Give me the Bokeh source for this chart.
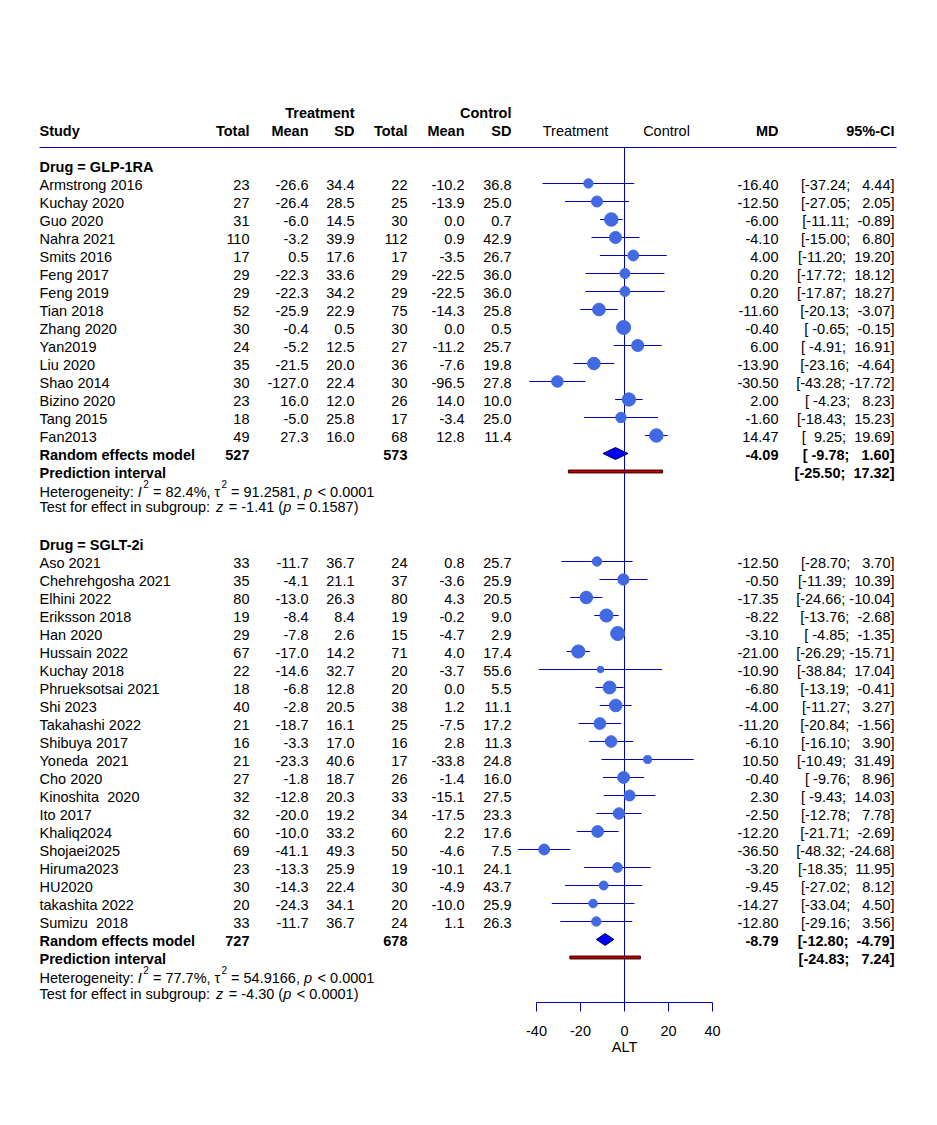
import math
from bokeh.plotting import figure
from bokeh.models import Range1d, LinearAxis, FixedTicker, ColumnDataSource
from bokeh.embed import file_html
from bokeh.resources import INLINE
from bokeh.core.properties import value

# ---------------- data ----------------
g1_name = "Drug = GLP-1RA"
g1_study = ["Armstrong 2016", "Kuchay 2020", "Guo 2020", "Nahra 2021", "Smits 2016",
            "Feng 2017", "Feng 2019", "Tian 2018", "Zhang 2020", "Yan2019", "Liu 2020",
            "Shao 2014", "Bizino 2020", "Tang 2015", "Fan2013"]
g1_n_t = [23, 27, 31, 110, 17, 29, 29, 52, 30, 24, 35, 30, 23, 18, 49]
g1_mean_t = [-26.6, -26.4, -6.0, -3.2, 0.5, -22.3, -22.3, -25.9, -0.4, -5.2, -21.5, -127.0, 16.0, -5.0, 27.3]
g1_sd_t = [34.4, 28.5, 14.5, 39.9, 17.6, 33.6, 34.2, 22.9, 0.5, 12.5, 20.0, 22.4, 12.0, 25.8, 16.0]
g1_n_c = [22, 25, 30, 112, 17, 29, 29, 75, 30, 27, 36, 30, 26, 17, 68]
g1_mean_c = [-10.2, -13.9, 0.0, 0.9, -3.5, -22.5, -22.5, -14.3, 0.0, -11.2, -7.6, -96.5, 14.0, -3.4, 12.8]
g1_sd_c = [36.8, 25.0, 0.7, 42.9, 26.7, 36.0, 36.0, 25.8, 0.5, 25.7, 19.8, 27.8, 10.0, 25.0, 11.4]
g1_md = [-16.40, -12.50, -6.00, -4.10, 4.00, 0.20, 0.20, -11.60, -0.40, 6.00, -13.90, -30.50, 2.00, -1.60, 14.47]
g1_lo = [-37.24, -27.05, -11.11, -15.00, -11.20, -17.72, -17.87, -20.13, -0.65, -4.91, -23.16, -43.28, -4.23, -18.43, 9.25]
g1_hi = [4.44, 2.05, -0.89, 6.80, 19.20, 18.12, 18.27, -3.07, -0.15, 16.91, -4.64, -17.72, 8.23, 15.23, 19.69]
g1_tot_t, g1_tot_c = 527, 573
g1_re = [-4.09, -9.78, 1.60]
g1_pi = [-25.50, 17.32]
g1_tau2 = 91.2581
g1_het = ["82.4%", "91.2581", "< 0.0001"]
g1_test = ["-1.41", "= 0.1587"]

g2_name = "Drug = SGLT-2i"
g2_study = ["Aso 2021", "Chehrehgosha 2021", "Elhini 2022", "Eriksson 2018", "Han 2020",
            "Hussain 2022", "Kuchay 2018", "Phrueksotsai 2021", "Shi 2023", "Takahashi 2022",
            "Shibuya 2017", "Yoneda\u00a0 2021", "Cho 2020", "Kinoshita\u00a0 2020", "Ito 2017",
            "Khaliq2024", "Shojaei2025", "Hiruma2023", "HU2020", "takashita 2022", "Sumizu\u00a0 2018"]
g2_n_t = [33, 35, 80, 19, 29, 67, 22, 18, 40, 21, 16, 21, 27, 32, 32, 60, 69, 23, 30, 20, 33]
g2_mean_t = [-11.7, -4.1, -13.0, -8.4, -7.8, -17.0, -14.6, -6.8, -2.8, -18.7, -3.3, -23.3, -1.8,
             -12.8, -20.0, -10.0, -41.1, -13.3, -14.3, -24.3, -11.7]
g2_sd_t = [36.7, 21.1, 26.3, 8.4, 2.6, 14.2, 32.7, 12.8, 20.5, 16.1, 17.0, 40.6, 18.7, 20.3, 19.2,
           33.2, 49.3, 25.9, 22.4, 34.1, 36.7]
g2_n_c = [24, 37, 80, 19, 15, 71, 20, 20, 38, 25, 16, 17, 26, 33, 34, 60, 50, 19, 30, 20, 24]
g2_mean_c = [0.8, -3.6, 4.3, -0.2, -4.7, 4.0, -3.7, 0.0, 1.2, -7.5, 2.8, -33.8, -1.4, -15.1, -17.5,
             2.2, -4.6, -10.1, -4.9, -10.0, 1.1]
g2_sd_c = [25.7, 25.9, 20.5, 9.0, 2.9, 17.4, 55.6, 5.5, 11.1, 17.2, 11.3, 24.8, 16.0, 27.5, 23.3,
           17.6, 7.5, 24.1, 43.7, 25.9, 26.3]
g2_md = [-12.50, -0.50, -17.35, -8.22, -3.10, -21.00, -10.90, -6.80, -4.00, -11.20, -6.10, 10.50,
         -0.40, 2.30, -2.50, -12.20, -36.50, -3.20, -9.45, -14.27, -12.80]
g2_lo = [-28.70, -11.39, -24.66, -13.76, -4.85, -26.29, -38.84, -13.19, -11.27, -20.84, -16.10,
         -10.49, -9.76, -9.43, -12.78, -21.71, -48.32, -18.35, -27.02, -33.04, -29.16]
g2_hi = [3.70, 10.39, -10.04, -2.68, -1.35, -15.71, 17.04, -0.41, 3.27, -1.56, 3.90, 31.49, 8.96,
         14.03, 7.78, -2.69, -24.68, 11.95, 8.12, 4.50, 3.56]
g2_tot_t, g2_tot_c = 727, 678
g2_re = [-8.79, -12.80, -4.79]
g2_pi = [-24.83, 7.24]
g2_tau2 = 54.9166
g2_het = ["77.7%", "54.9166", "< 0.0001"]
g2_test = ["-4.30", "< 0.0001"]

x_ticks = [-40, -20, 0, 20, 40]
x_label = "ALT"

# ---------------- layout helpers ----------------
FONT = "Liberation Sans"
FS = 14.5
ZERO_PX, PX_PER_UNIT = 625.0, 2.2
ROW0_PX, ROW_H = 166.0, 18.0
FRAME_LEFT, FRAME_RIGHT = 1.0, 922.0
FRAME_TOP, FRAME_BOT = 1.0, 1003.0
NB = "\u00a0"


def X(px):
    return (px - ZERO_PX) / PX_PER_UNIT


def R(py):
    return (py - ROW0_PX) / ROW_H


LINE_BLUE = "#0000B4"
PT_BLUE = "#4169E1"
FIG_H = 1109

p = figure(width=921, height=FIG_H, output_backend="svg", toolbar_location=None,
           x_axis_type=None, y_axis_type=None,
           x_range=Range1d(X(FRAME_LEFT), X(FRAME_RIGHT)),
           y_range=Range1d(R(FRAME_BOT), R(FRAME_TOP)),
           min_border_left=0, min_border_right=0, min_border_top=0,
           min_border_bottom=int(FIG_H - (FRAME_BOT - FRAME_TOP)))
p.outline_line_color = None
p.background_fill_color = "white"
p.border_fill_color = "white"

texts = {}
BASE_YOFF = 1
SUP_YOFF = -7


def T(px, row, s, align="left", style="normal", size=FS, yoff=BASE_YOFF):
    key = (align, style, size, yoff)
    d = texts.setdefault(key, {"x": [], "y": [], "text": []})
    d["x"].append(X(px))
    d["y"].append(row)
    d["text"].append(s)


W = {' ': 278, '.': 278, ',': 278, '%': 889, '=': 584, '<': 584, ':': 278, '(': 333, ')': 333,
     '-': 333, 'H': 722, 'T': 611, 'I': 278, 'e': 556, 't': 278, 'r': 333, 'o': 556, 'g': 556,
     'n': 556, 'i': 222, 'y': 500, 's': 500, 'f': 278, 'c': 500, 'u': 556, 'b': 556, 'p': 556,
     'z': 500, '\u03c4': 470}
for dch in "0123456789":
    W[dch] = 556


def tw(s, size):
    return sum(W.get(c, 556) for c in s) * size / 1000.0


def pieces(x0, row, parts):
    x = x0
    for s, style, sup in parts:
        size = 10 if sup else FS
        yoff = SUP_YOFF if sup else BASE_YOFF
        lead = len(s) - len(s.lstrip(" "))
        st = s.strip(" ")
        if st:
            T(x + tw(" " * lead, size), row, st, "left", style, size, yoff)
        x += tw(s, size)
        if style == "italic":
            x += 1.5


def ci(lo, hi):
    return "[" + f"{lo:6.2f}".replace(" ", NB) + "; " + f"{hi:6.2f}".replace(" ", NB) + "]"


# column positions (px)
STUDY_X, NT, MT, ST, NC, MC, SC = 40, 250, 309, 355, 408, 465, 512
MDX, CIU = 779, 895

# header
T(ST, -2.95, "Treatment", "right", "bold")
T(SC, -2.95, "Control", "right", "bold")
T(STUDY_X, -1.95, "Study", "left", "bold")
for px, s in [(NT, "Total"), (MT, "Mean"), (ST, "SD"), (NC, "Total"), (MC, "Mean"), (SC, "SD"),
              (MDX, "MD"), (CIU, "95%-CI")]:
    T(px, -1.95, s, "right", "bold")
T(576, -1.95, "Treatment", "center")
T(667, -1.95, "Control", "center")

# header line and zero line
p.segment(x0=[X(40)], x1=[X(897)], y0=[-1.0], y1=[-1.0], line_color=LINE_BLUE, line_width=1)
p.segment(x0=[0], x1=[0], y0=[-1.0], y1=[R(FRAME_BOT)], line_color=LINE_BLUE, line_width=1)

groups = [
    (0, g1_name, g1_study, g1_n_t, g1_mean_t, g1_sd_t, g1_n_c, g1_mean_c, g1_sd_c, g1_md, g1_lo,
     g1_hi, g1_tot_t, g1_tot_c, g1_re, g1_pi, g1_tau2, g1_het, g1_test, 0.9),
    (21, g2_name, g2_study, g2_n_t, g2_mean_t, g2_sd_t, g2_n_c, g2_mean_c, g2_sd_c, g2_md, g2_lo,
     g2_hi, g2_tot_t, g2_tot_c, g2_re, g2_pi, g2_tau2, g2_het, g2_test, 0.95),
]

for (base, name, study, nt, mt, sdt, nc, mc, sdc, md, lo, hi, tt, tc, re, pi, tau2, het, test,
     tgap) in groups:
    n = len(study)
    rows = [base + 1 + i for i in range(n)]
    T(STUDY_X, base, name, "left", "bold")
    for i in range(n):
        r = rows[i]
        T(STUDY_X, r, study[i])
        T(NT, r, str(nt[i]), "right")
        T(MT, r, f"{mt[i]:.1f}", "right")
        T(ST, r, f"{sdt[i]:.1f}", "right")
        T(NC, r, str(nc[i]), "right")
        T(MC, r, f"{mc[i]:.1f}", "right")
        T(SC, r, f"{sdc[i]:.1f}", "right")
        T(MDX, r, f"{md[i]:.2f}", "right")
        T(CIU, r, ci(lo[i], hi[i]), "right")
    # weights -> marker size
    se = [(h - l) / (2 * 1.959964) for l, h in zip(lo, hi)]
    w = [1.0 / (s * s + tau2) for s in se]
    wmax = max(w)
    sizes = [14.0 * math.sqrt(v / wmax) for v in w]
    p.segment(x0=lo, x1=hi, y0=rows, y1=rows, line_color=LINE_BLUE, line_width=1)
    p.scatter(x=md, y=rows, size=sizes, marker="circle", fill_color=PT_BLUE, line_color=PT_BLUE)

    r_re = base + 1 + n
    T(STUDY_X, r_re, "Random effects model", "left", "bold")
    T(NT, r_re, str(tt), "right", "bold")
    T(NC, r_re, str(tc), "right", "bold")
    T(MDX, r_re, f"{re[0]:.2f}", "right", "bold")
    T(CIU, r_re, ci(re[1], re[2]), "right", "bold")
    hh = 0.33
    p.patch(x=[re[1], re[0], re[2], re[0]], y=[r_re, r_re - hh, r_re, r_re + hh],
            fill_color="#0000FF", line_color="#000040", line_width=1)

    r_pi = r_re + 1
    T(STUDY_X, r_pi, "Prediction interval", "left", "bold")
    T(CIU, r_pi, ci(pi[0], pi[1]), "right", "bold")
    p.quad(left=[pi[0]], right=[pi[1]], top=[r_pi - 0.08], bottom=[r_pi + 0.08],
           fill_color="#C00000", line_color="#300000", line_width=1)

    r_het = r_pi + 1.1
    pieces(STUDY_X, r_het, [("Heterogeneity: ", "normal", False), ("I", "italic", False),
                            ("2", "normal", True), (f" = {het[0]}, \u03c4", "normal", False),
                            ("2", "normal", True), (f" = {het[1]}, ", "normal", False),
                            ("p", "italic", False), (f" {het[2]}", "normal", False)])
    r_test = r_pi + 1 + tgap
    pieces(STUDY_X, r_test, [("Test for effect in subgroup: ", "normal", False),
                             ("z", "italic", False), (f" = {test[0]} (", "normal", False),
                             ("p", "italic", False), (f" {test[1]})", "normal", False)])

for (align, style, size, yoff), d in texts.items():
    p.text(x="x", y="y", text="text", source=ColumnDataSource(d), text_align=align,
           text_baseline="middle", text_font=value(FONT), text_font_size=f"{size}px",
           text_font_style=style, y_offset=yoff, text_color="black")

ax = LinearAxis(bounds=(-40, 40), ticker=FixedTicker(ticks=x_ticks))
ax.major_label_overrides = {t: str(t) for t in x_ticks}
ax.minor_tick_line_color = None
ax.major_tick_in = 0
ax.major_tick_out = 9
ax.axis_line_color = LINE_BLUE
ax.major_tick_line_color = LINE_BLUE
ax.major_label_text_font = FONT
ax.major_label_text_font_size = f"{FS}px"
ax.major_label_text_color = "black"
ax.major_label_standoff = 14
p.add_layout(ax, "below")

# second, line-less axis that carries the axis title centred at x = 0
ax2 = LinearAxis(ticker=FixedTicker(ticks=[0]))
ax2.major_label_overrides = {0: x_label}
ax2.axis_line_color = None
ax2.major_tick_line_color = None
ax2.minor_tick_line_color = None
ax2.major_tick_in = 0
ax2.major_tick_out = 0
ax2.major_label_standoff = 0
ax2.major_label_text_font = FONT
ax2.major_label_text_font_size = f"{FS}px"
ax2.major_label_text_color = "black"
p.add_layout(ax2, "below")

open("out.html", "w").write(file_html(p, INLINE, "forest"))
